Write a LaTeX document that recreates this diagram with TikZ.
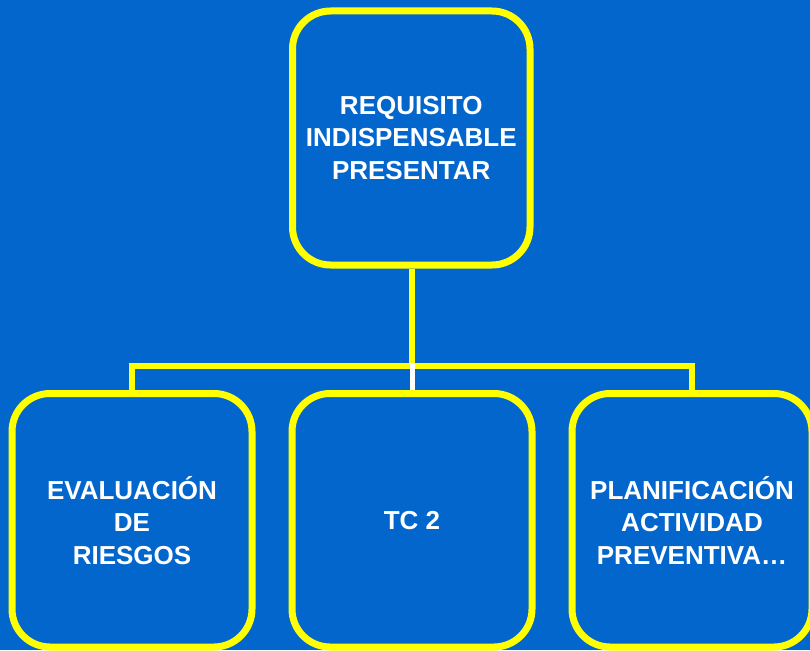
\documentclass[tikz,border=0pt]{standalone}
\usepackage{fontspec}
\setmainfont{Liberation Sans}
\definecolor{bg}{RGB}{3,102,204}
\definecolor{yel}{RGB}{255,255,0}
\begin{document}
\begin{tikzpicture}[x=1pt,y=-1pt,
  box/.style={draw=yel, line width=7pt, fill=bg, rounded corners=38pt,
    minimum width=240pt, minimum height=253.5pt, inner sep=0pt,
    text=white, align=center, font=\bfseries\fontsize{26}{32.5}\selectfont},
  conn/.style={draw=yel, line width=6pt, line join=miter}]
\useasboundingbox (0,0) rectangle (810,650);
\fill[bg] (0,0) rectangle (810,650);
\node[box, minimum width=237.5pt, minimum height=254pt] (top) at (411.25,138) {REQUISITO\\INDISPENSABLE\\PRESENTAR};
\node[box] (ev) at (132,520.25) {EVALUACIÓN\\DE\\RIESGOS};
\node[box] (tc) at (412,520.25) {TC 2};
\node[box] (pl) at (692,520.25) {PLANIFICACIÓN\\ACTIVIDAD\\PREVENTIVA…};
\coordinate (bus) at (412,365.5);
\draw[conn] (top.south -| bus) -- (bus);
\draw[conn] (ev.north) -- (ev.north |- bus) -- (pl.north |- bus) -- (pl.north);
\draw[white, line width=5pt] ([yshift=3pt]bus) -- (tc.north);
\end{tikzpicture}
\end{document}
